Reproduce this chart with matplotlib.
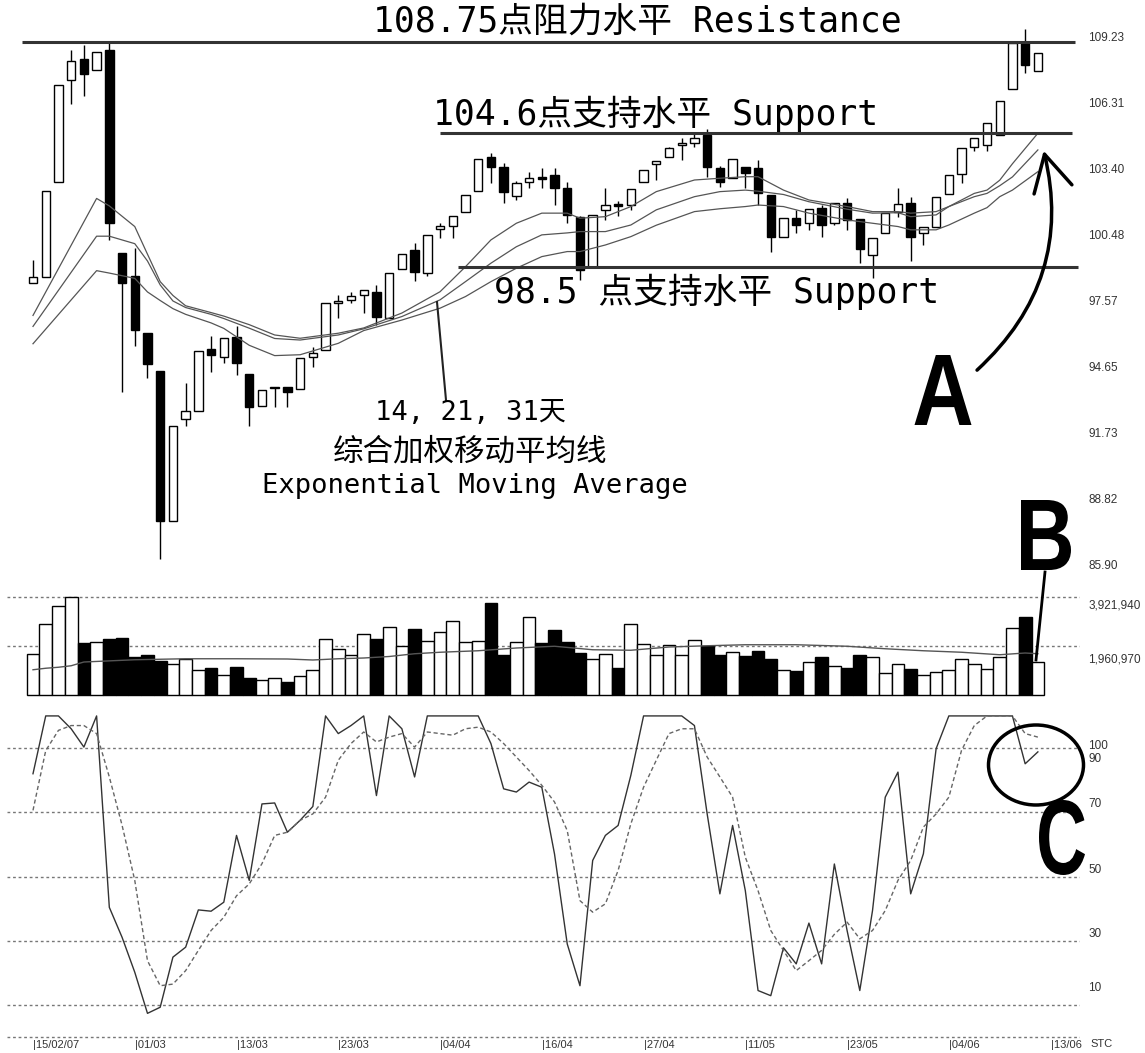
import matplotlib
matplotlib.use('Agg')
import matplotlib.pyplot as plt
from matplotlib.patches import Rectangle, Ellipse, FancyArrowPatch, PathPatch
from matplotlib.lines import Line2D
from matplotlib.textpath import TextPath
from matplotlib.font_manager import FontProperties
from matplotlib.transforms import Affine2D

W, H = 1145, 1053

# K线数据 (开, 高, 低, 收)
opens = [97.75, 98.02, 102.38, 107.00, 107.95, 107.47, 108.37, 99.15, 98.07, 95.51,
         93.75, 86.93, 91.55, 91.95, 94.77, 94.41, 95.29, 93.62, 92.18, 92.98,
         93.03, 92.94, 94.40, 94.72, 96.86, 96.99, 97.22, 97.36, 96.18, 98.41,
         99.27, 98.23, 100.23, 100.37, 101.01, 101.96, 103.51, 103.06, 101.73, 102.37,
         102.60, 102.69, 102.10, 100.78, 98.50, 101.10, 101.37, 101.32, 102.37, 103.19,
         103.51, 104.06, 104.15, 104.51, 103.01, 102.55, 103.06, 103.01, 101.78, 99.87,
         100.73, 100.50, 101.19, 100.50, 101.42, 100.69, 99.05, 100.05, 101.01, 101.42,
         100.05, 100.32, 101.83, 102.74, 103.97, 104.06, 104.51, 106.61, 108.70, 107.43]
highs = [98.80, 101.98, 106.77, 108.37, 108.62, 108.29, 108.80, 99.15, 99.36, 95.51,
         93.75, 91.24, 93.20, 94.66, 95.35, 95.24, 95.79, 93.62, 92.89, 93.03,
         93.03, 94.35, 94.85, 96.86, 97.22, 97.36, 97.45, 97.68, 98.23, 99.09,
         99.59, 99.96, 100.50, 100.82, 101.78, 103.42, 103.69, 103.24, 102.40, 102.83,
         103.01, 103.01, 102.37, 100.80, 100.87, 102.10, 101.51, 102.05, 102.92, 103.33,
         103.95, 104.38, 104.65, 104.80, 103.10, 103.42, 103.06, 103.37, 101.78, 100.73,
         101.10, 101.14, 101.32, 101.42, 101.64, 100.69, 99.82, 100.96, 102.10, 101.69,
         100.32, 101.69, 102.69, 103.92, 104.38, 105.06, 106.06, 108.70, 109.34, 108.25]
lows = [97.75, 98.02, 102.38, 105.94, 106.30, 107.47, 99.71, 92.81, 94.88, 93.44,
        85.20, 86.93, 91.24, 91.95, 93.72, 94.14, 93.59, 91.27, 92.18, 92.12,
        92.12, 92.94, 93.94, 94.72, 96.18, 96.86, 96.40, 95.86, 96.18, 98.41,
        97.86, 98.10, 99.82, 99.82, 101.01, 101.96, 102.33, 101.42, 101.55, 102.10,
        102.10, 101.32, 100.50, 97.91, 98.50, 100.64, 100.82, 101.10, 102.37, 102.46,
        103.51, 103.37, 103.97, 102.60, 102.14, 102.55, 102.10, 101.32, 99.18, 99.87,
        100.05, 100.19, 99.87, 100.41, 100.19, 98.68, 98.00, 100.05, 100.78, 98.77,
        99.50, 100.32, 101.83, 102.33, 103.78, 103.78, 104.51, 106.61, 107.34, 107.43]
closes = [98.02, 101.98, 106.77, 107.87, 107.27, 108.29, 100.50, 97.75, 95.63, 94.06,
          86.93, 91.24, 91.95, 94.66, 94.50, 95.24, 94.14, 92.10, 92.89, 93.03,
          92.80, 94.35, 94.58, 96.86, 96.95, 97.18, 97.45, 96.22, 98.23, 99.09,
          98.27, 99.96, 100.37, 100.82, 101.78, 103.42, 103.06, 101.92, 102.33, 102.55,
          102.51, 102.10, 100.87, 98.36, 100.87, 101.32, 101.28, 102.05, 102.92, 103.33,
          103.92, 104.15, 104.38, 103.06, 102.37, 103.42, 102.78, 101.87, 99.87, 100.73,
          100.41, 101.14, 100.41, 101.42, 100.64, 99.32, 99.82, 100.96, 101.37, 99.87,
          100.32, 101.69, 102.69, 103.92, 104.38, 105.06, 106.06, 108.70, 107.70, 108.25]

# 三条移动平均线 (按上/中/下读取)
ema_bars = [0, 5, 6, 8, 9, 10, 11, 12, 14, 15, 17, 19, 21, 24, 26, 29, 32, 34, 36, 38,
            40, 42, 43, 45, 47, 49, 52, 54, 56, 57, 59, 61, 64, 66, 68, 69, 71, 72, 74, 75,
            76, 77, 79]
ema_upper = [96.29, 101.62, 101.28, 100.34, 99.08, 97.83, 97.20, 96.73, 96.42, 96.26,
             95.87, 95.40, 95.25, 95.48, 95.72, 96.40, 97.37, 98.51, 99.73, 100.49,
             100.95, 100.95, 100.72, 100.79, 101.25, 101.93, 102.46, 102.54, 102.61, 102.61,
             102.00, 101.55, 101.25, 101.02, 101.02, 100.95, 101.02, 101.25, 101.85, 102.00,
             102.45, 103.20, 104.59]
ema_middle = [95.79, 99.90, 99.90, 99.56, 98.77, 97.68, 96.95, 96.65, 96.34, 96.15,
              95.71, 95.24, 95.17, 95.40, 95.68, 96.24, 97.00, 97.83, 98.67, 99.42,
              99.96, 100.05, 100.11, 100.11, 100.41, 101.10, 101.70, 101.93, 102.00, 101.95,
              101.80, 101.47, 101.13, 100.95, 100.97, 100.79, 100.87, 101.25, 101.70, 101.85,
              102.20, 102.60, 103.83]
ema_lower = [95.00, 98.33, 98.22, 97.98, 97.36, 96.97, 96.60, 96.34, 95.95, 95.70,
             94.93, 94.46, 94.50, 95.02, 95.60, 96.08, 96.62, 97.15, 97.83, 98.44,
             98.97, 99.20, 99.20, 99.50, 99.88, 100.40, 101.02, 101.15, 101.25, 101.32,
             101.25, 100.95, 100.64, 100.49, 100.34, 100.19, 100.19, 100.41, 100.95, 101.20,
             101.70, 102.00, 102.84]

# 成交量 (百万)
volume_m = [1.65, 2.85, 3.56, 3.92, 2.08, 2.12, 2.26, 2.28, 1.54, 1.61,
            1.37, 1.25, 1.44, 1.01, 1.07, 0.81, 1.14, 0.67, 0.60, 0.67,
            0.54, 0.77, 1.01, 2.24, 1.84, 1.61, 2.46, 2.24, 2.71, 1.97,
            2.65, 2.18, 2.51, 2.98, 2.12, 2.15, 3.69, 1.61, 2.12, 3.12,
            2.08, 2.59, 2.12, 1.68, 1.45, 1.65, 1.07, 2.85, 2.05, 1.60,
            2.01, 1.61, 2.19, 1.97, 1.61, 1.72, 1.57, 1.75, 1.44, 1.01,
            0.98, 1.34, 1.54, 1.18, 1.07, 1.61, 1.52, 0.87, 1.25, 1.03,
            0.81, 0.91, 1.01, 1.45, 1.25, 1.05, 1.54, 2.69, 3.13, 1.34]
vma_bars = [0, 1, 2, 3, 4, 8, 12, 16, 20, 22, 24, 26, 28, 30, 32, 35, 38, 41, 44, 47,
            50, 53, 56, 60, 64, 67, 70, 73, 76, 78, 79]
vma_m = [1.01, 1.07, 1.11, 1.17, 1.32, 1.41, 1.45, 1.45, 1.44, 1.40, 1.45, 1.48, 1.54,
         1.65, 1.71, 1.77, 1.88, 1.95, 1.81, 1.79, 1.92, 1.97, 2.01, 2.01, 1.95, 1.85,
         1.77, 1.71, 1.61, 1.68, 1.65]

# 随机指标 %K / %D
stoch_k = [82.0, 100, 100, 96, 90.3, 100, 40.4, 31.1, 20.2, 7.4,
           9.3, 24.9, 28.0, 39.6, 39.2, 42.0, 62.8, 48.8, 72.6, 72.9,
           63.8, 67.5, 71.8, 100, 94.5, 97, 100, 75.2, 100, 96,
           81, 100, 100, 100, 100, 100, 91.4, 77.3, 76.3, 79.4,
           77.8, 57, 29, 16, 55, 62.8, 65.9, 81.5, 100, 100,
           100, 100, 97, 69.5, 44.6, 65.9, 45.6, 14.5, 12.9, 27.8,
           22.8, 35.5, 22.8, 53.9, 33.2, 14.5, 39.4, 74.7, 82.5, 44.6,
           57.1, 89.8, 100, 100, 100, 100, 100, 100, 85.1, 88.8]
stoch_d = [70.6, 89.2, 95.5, 97, 97, 94.5, 81, 66, 48.8, 23.8,
           16, 16.5, 20.7, 27, 33.2, 37.3, 44, 47.7, 54, 62.8,
           63.8, 67.5, 69.5, 74.7, 86.2, 91.4, 95, 91.9, 93.4, 94.5,
           90.3, 95, 94.5, 94, 96, 96.5, 95, 91.4, 87.2, 83,
           78.4, 73.2, 64.3, 42.5, 38.9, 41.5, 51.9, 66.4, 77.8, 86.2,
           94.5, 96, 96, 87.2, 81, 74.7, 56, 45.6, 33.2, 27,
           20.7, 23.8, 27, 32, 35.8, 30.6, 33.2, 39.4, 48.8, 55,
           65.4, 69.5, 74.7, 89.3, 97, 100, 100, 100, 94.5, 93.4]

price_ticks = [109.23, 106.31, 103.40, 100.48, 97.57, 94.65, 91.73, 88.82, 85.90]
vol_lines = [3.92194, 1.96097]
vol_label_pos = [3.64, 1.48]
vol_labels = ['3,921,940', '1,960,970']
stoch_lines = [90, 70, 50, 30, 10, 0]
stoch_label_pos = [91.2, 87.2, 72.9, 52.6, 32.7, 15.9]
stoch_labels = ['100', '90', '70', '50', '30', '10']
date_bars = list(range(0, 81, 8))
date_labels = ['|15/02/07', '|01/03', '|13/03', '|23/03', '|04/04', '|16/04',
               '|27/04', '|11/05', '|23/05', '|04/06', '|13/06']

small = ['Liberation Sans', 'DejaVu Sans']
mono = ['DejaVu Sans Mono', 'Noto Sans CJK SC']
cjk = ['Noto Sans CJK SC', 'DejaVu Sans']


def fx(x):
    return x / W


def fy(y):
    return 1 - y / H


def rect(x0, y0, x1, y1):
    return [x0 / W, 1 - y1 / H, (x1 - x0) / W, (y1 - y0) / H]


def xb(px):
    # 像素 -> K线序号
    return (px - 33) / 12.72


def clean(ax):
    ax.set_xlim(xb(0), xb(1080))
    for s in ax.spines.values():
        s.set_visible(False)
    ax.tick_params(left=False, labelleft=False, bottom=False, labelbottom=False,
                   right=False, labelright=False)


def big_letter(fig, ch, xc, ybase, wpx, hpx):
    # 窄体粗字母 A/B/C
    tp = TextPath((0, 0), ch, size=100, prop=FontProperties(family='Liberation Sans', weight='bold'))
    ext = tp.get_extents()
    tr = (Affine2D().translate(-(ext.x0 + ext.width / 2), -ext.y0)
          .scale(wpx / ext.width, hpx / ext.height).translate(xc, H - ybase))
    fig.add_artist(PathPatch(tp, transform=tr, facecolor='black', edgecolor='none'))


fig = plt.figure(figsize=(W / 100, H / 100), dpi=100)

# 价格
ax_p = fig.add_axes(rect(0, 0, 1080, 585))
ax_p.set_ylim(84.01, 110.66)
for i in range(len(opens)):
    o, h, l, c = opens[i], highs[i], lows[i], closes[i]
    ax_p.vlines(i, l, h, color='black', lw=1, zorder=2)
    up = c >= o
    ax_p.add_patch(Rectangle((i - 0.33, min(o, c)), 0.66, max(abs(c - o), 0.06),
                             facecolor='white' if up else 'black',
                             edgecolor='black', lw=1, zorder=3))
for vals in (ema_upper, ema_middle, ema_lower):
    ax_p.plot(ema_bars, vals, color='#555555', lw=0.9, zorder=4)

ax_p.hlines(108.75, xb(22), xb(1075), color='#333333', lw=2.2, zorder=5)
ax_p.hlines(104.6, xb(440), xb(1072), color='#333333', lw=2.2, zorder=5)
ax_p.hlines(98.5, xb(458), xb(1078), color='#333333', lw=2.2, zorder=5)

ax_pl = ax_p.twinx()
clean(ax_p)
clean(ax_pl)
ax_pl.set_ylim(85.0, 110.84)
ax_pl.set_yticks(price_ticks)
ax_pl.set_yticklabels(['%.2f' % v for v in price_ticks], family=small, fontsize=8.5, color='#333333')
ax_pl.tick_params(axis='y', right=False, labelright=True, length=0, pad=6)

# 成交量
ax_v = fig.add_axes(rect(0, 590, 1080, 700))
clean(ax_v)
ax_v.set_ylim(-0.2, 4.2)
vcolors = ['white' if closes[i] >= opens[i] else 'black' for i in range(len(volume_m))]
ax_v.bar(range(len(volume_m)), volume_m, width=1.0, color=vcolors, edgecolor='black', lw=1)
ax_v.plot(vma_bars, vma_m, color='#555555', lw=1)
for v in vol_lines:
    ax_v.axhline(v, xmin=7 / 1080, xmax=1, color='#777777', lw=1, ls=(0, (2, 2)), zorder=0)
ax_v.set_yticks(vol_label_pos)
ax_v.set_yticklabels(vol_labels, family=small, fontsize=8.5, color='#333333')
ax_v.tick_params(axis='y', right=False, labelright=True, length=0, pad=6)

# 随机指标
ax_s = fig.add_axes(rect(0, 705, 1080, 1040))
clean(ax_s)
ax_s.set_ylim(-0.9, 103.4)
for v in stoch_lines:
    ax_s.axhline(v, xmin=7 / 1080, xmax=1, color='#777777', lw=1, ls=(0, (2, 2)), zorder=0)
ax_s.plot(range(len(stoch_k)), stoch_k, color='#333333', lw=1)
ax_s.plot(range(len(stoch_d)), stoch_d, color='#666666', lw=1, ls=(0, (3, 2)))
ax_s.set_yticks(stoch_label_pos)
ax_s.set_yticklabels(stoch_labels, family=small, fontsize=8.5, color='#333333')
ax_s.set_xticks(date_bars)
ax_s.set_xticklabels(date_labels, family=small, fontsize=8, color='#333333', ha='left')
ax_s.tick_params(axis='y', right=False, labelright=True, length=0, pad=6)
ax_s.tick_params(axis='x', bottom=False, labelbottom=True, length=0, pad=0)
fig.text(fx(1090), fy(1044), 'STC', family=small, fontsize=8, color='#333333', va='center')

# 标注文字
fig.text(fx(637), fy(22), '108.75点阻力水平 Resistance', family=mono, fontsize=25,
         ha='center', va='center')
fig.text(fx(656), fy(114), '104.6点支持水平 Support', family=mono, fontsize=25,
         ha='center', va='center')
fig.text(fx(717), fy(292), '98.5 点支持水平 Support', family=mono, fontsize=25,
         ha='center', va='center')
fig.text(fx(470), fy(413), '14, 21, 31天', family=mono, fontsize=19.5, ha='center', va='center')
fig.text(fx(470), fy(452), '综合加权移动平均线', family=cjk, fontsize=22, ha='center', va='center')
fig.text(fx(475), fy(486), 'Exponential Moving Average', family=mono, fontsize=19.5,
         ha='center', va='center')
fig.add_artist(Line2D([fx(446), fx(437)], [fy(400), fy(302)], transform=fig.transFigure,
                      color='#222222', lw=1.5))

big_letter(fig, 'A', 943, 425, 57, 70)
big_letter(fig, 'B', 1046, 570, 50, 70)
big_letter(fig, 'C', 1062, 875, 46, 75)

fig.add_artist(FancyArrowPatch((fx(975), fy(372)), (fx(1043), fy(148)), transform=fig.transFigure,
                               connectionstyle='arc3,rad=0.3',
                               arrowstyle='->,head_length=1.3,head_width=0.7',
                               mutation_scale=20, lw=2.5, color='black'))
fig.add_artist(Line2D([fx(1045), fx(1036)], [fy(572), fy(660)], transform=fig.transFigure,
                      color='black', lw=2))
fig.add_artist(Ellipse((fx(1036), fy(765)), 95 / W, 80 / H, transform=fig.transFigure,
                       fill=False, lw=2.5, color='black'))

fig.savefig('out.png', dpi=100, facecolor='white')
